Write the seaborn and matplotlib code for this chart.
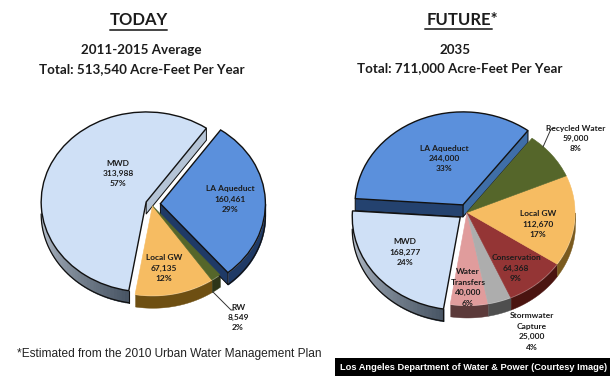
import matplotlib
matplotlib.use('Agg')
import matplotlib.pyplot as plt
from matplotlib.patches import Rectangle
import numpy as np
import seaborn as sns

W_PX, H_PX = 610, 376

# values as printed in the chart
today_names = ['MWD', 'Local GW', 'RW', 'LA Aqueduct']
today_values = [313988, 67135, 8549, 160461]
today_pct = [57, 12, 2, 29]

future_names = ['LA Aqueduct', 'MWD', 'Water\nTransfers', 'Stormwater\nCapture',
                'Conservation', 'Local GW', 'Recycled Water']
future_values = [244000, 168277, 40000, 25000, 64368, 112670, 59000]
future_pct = [33, 24, 6, 4, 9, 17, 8]

# label centres in pixels, first line y
today_pos = [(118, 163), (164, 258), (238, 307), (230, 189)]
future_pos = [(444, 148), (405, 242), (468, 272), (532, 316), (516, 258), (538, 214), (576, 128)]

today_colors = ['#cfe0f6', '#f6bc62', '#55662a', '#5b90dc']
today_walls = [('#c3ccd8', '#465362'), ('#6e4f12', '#6e4f12'), ('#2e3518', '#2e3518'), ('#1f3a66', '#1f3a66')]
future_colors = ['#5b90dc', '#cfe0f6', '#e09c9c', '#adadad', '#943535', '#f6bc62', '#55662a']
future_walls = [('#24426f', '#24426f'), ('#c3ccd8', '#465362'), ('#5c3a3a', '#5c3a3a'), ('#4f4f4f', '#4f4f4f'),
                ('#4a1410', '#4a1410'), ('#7a5a1e', '#7a5a1e'), ('#3a4620', '#3a4620')]

sns.set_theme(style='white')
plt.rcParams['font.family'] = ['Lato', 'Liberation Sans']

fig = plt.figure(figsize=(W_PX / 100, H_PX / 100), dpi=100, facecolor='white')


def draw_pie(values, colors, walls, explode, start, cx, cy, rx, ry, depth_px, outlined, inner, glue=None):
    hw, hh = rx * 1.3, ry * 1.3
    ax = fig.add_axes([(cx - hw) / W_PX, 1 - (cy + hh) / H_PX, 2 * hw / W_PX, 2 * hh / H_PX])
    wedges, _ = ax.pie(values, colors=colors, explode=explode, startangle=start, radius=1,
                       wedgeprops={'linewidth': 0})
    ax.set_aspect('auto')
    ax.set_xlim(-1.3, 1.3)
    ax.set_ylim(-1.3, 1.3)
    ax.patch.set_alpha(0)
    d = depth_px / ry
    if glue:
        wedges[glue[0]].set_center(wedges[glue[1]].center)

    for i, w in enumerate(wedges):
        w.set_zorder(5)
        if i in outlined:
            w.set_edgecolor('#111111')
            w.set_linewidth(1.0)
        else:
            w.set_edgecolor(colors[i])
            w.set_linewidth(0.4)
        t1, t2 = w.theta1, w.theta2
        lo, hi = max(t1, 180), min(t2, 360)
        # second lap for wedges that pass through 0 degrees
        if t2 > 540:
            lo, hi = 540, min(t2, 720)
        if hi > lo:
            th = np.radians(np.linspace(lo, hi, 40))
            xs = w.center[0] + np.cos(th)
            ys = w.center[1] + np.sin(th)
            if walls[i][0] == walls[i][1]:
                ax.fill_between(xs, ys - d, ys, color=walls[i][0], lw=0.3, zorder=2)
            else:
                pal = sns.blend_palette(walls[i], len(th))
                for k in range(len(th) - 1):
                    ax.fill_between(xs[k:k + 2], ys[k:k + 2] - d, ys[k:k + 2], color=pal[k], lw=0.8, zorder=2)
            if i in outlined:
                ax.plot(xs, ys - d, color='#111111', lw=0.9, zorder=3)
                ax.plot([xs[-1], xs[-1]], [ys[-1], ys[-1] - d], color='#111111', lw=0.8, zorder=3)

    # cut faces seen through the gaps
    for i, side, col in inner:
        w = wedges[i]
        a = np.radians(w.theta1 if side == 1 else w.theta2)
        x0, y0 = w.center
        x1, y1 = x0 + np.cos(a), y0 + np.sin(a)
        ax.fill([x0, x1, x1, x0], [y0, y1, y1 - d, y0 - d], color=col, lw=0.3, zorder=3)
        ax.plot([x0, x0, x1, x1], [y0, y0 - d, y1 - d, y1], color='#111111', lw=0.7, zorder=3)
    return ax


draw_pie(today_values, today_colors, today_walls, [0.06, 0.02, 0.02, 0.08], 55,
         152, 204, 105, 90, 12, [0, 3], [(0, 1, '#b5c4d6'), (3, 1, '#1f3a66')], glue=(2, 1))
draw_pie(future_values, future_colors, future_walls, [0.09, 0.08, 0, 0, 0, 0, 0], 53,
         467, 212.5, 108, 93, 12, [0, 1], [(0, 1, '#3f6ea8'), (0, 2, '#24426f')])

# overlay in pixel coordinates for all the text
top = fig.add_axes([0, 0, 1, 1], zorder=10)
top.set_xlim(0, W_PX)
top.set_ylim(H_PX, 0)
top.axis('off')
top.patch.set_alpha(0)

INK = '#1c1c1c'


def slice_labels(names, values, pct, pos):
    for name, v, p, (x, y) in zip(names, values, pct, pos):
        lines = name.split('\n') + [f'{v:,}', f'{p}%']
        for j, line in enumerate(lines):
            top.text(x, y + j * 10.4, line, ha='center', va='center', fontsize=6.0,
                     fontweight='bold', color=INK)


slice_labels(today_names, today_values, today_pct, today_pos)
slice_labels(future_names, future_values, future_pct, future_pos)

# leader lines
top.plot([213, 231, 234], [292, 310, 310], color='#333333', lw=0.7)
top.plot([543, 551, 555], [147, 129, 128], color='#333333', lw=0.7)

# headings
top.text(138.5, 20, 'TODAY', ha='center', va='center', fontsize=12, fontweight='bold', color=INK)
top.plot([110, 167], [29.5, 29.5], color='#444444', lw=1.4)
top.text(462.5, 20, 'FUTURE*', ha='center', va='center', fontsize=12, fontweight='bold', color=INK)
top.plot([425, 492], [28.5, 28.5], color='#444444', lw=1.4)
top.text(141, 50.5, '2011-2015 Average', ha='center', va='center', fontsize=9.6, fontweight='bold', color=INK)
top.text(142, 69, 'Total: 513,540 Acre-Feet Per Year', ha='center', va='center', fontsize=9.6, fontweight='bold', color=INK)
top.text(455, 50, '2035', ha='center', va='center', fontsize=9.6, fontweight='bold', color=INK)
top.text(460, 68, 'Total: 711,000 Acre-Feet Per Year', ha='center', va='center', fontsize=9.6, fontweight='bold', color=INK)

# footnote and credit bar
top.text(17, 353.5, '*Estimated from the 2010 Urban Water Management Plan', ha='left', va='center',
         fontsize=8.6, family='Liberation Sans', color='#222222')
top.add_patch(Rectangle((335, 358), 275, 18, color='black', lw=0))
top.text(473.5, 368, 'Los Angeles Department of Water & Power (Courtesy Image)', ha='center', va='center',
         fontsize=6.7, fontweight='bold', family='Liberation Sans', color='white')

fig.savefig('out.png', dpi=100)
